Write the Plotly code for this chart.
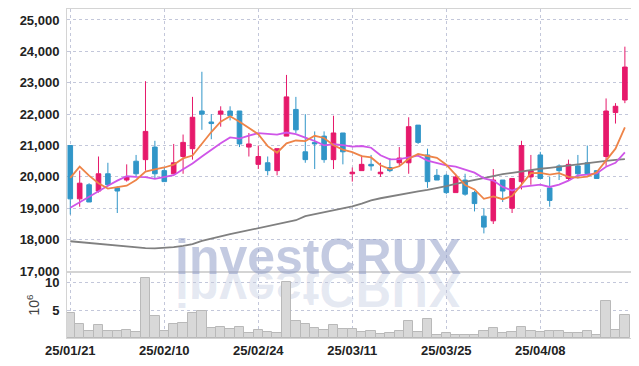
import base64
import plotly.graph_objects as go

# ---------------- data ----------------
dates = ["25/01/21", "25/01/22", "25/01/23", "25/01/24", "25/01/31",
         "25/02/03", "25/02/04", "25/02/05", "25/02/06", "25/02/07",
         "25/02/10", "25/02/11", "25/02/12", "25/02/13", "25/02/14",
         "25/02/17", "25/02/18", "25/02/19", "25/02/20", "25/02/21",
         "25/02/24", "25/02/25", "25/02/26", "25/02/27", "25/02/28",
         "25/03/04", "25/03/05", "25/03/06", "25/03/07", "25/03/10",
         "25/03/11", "25/03/12", "25/03/13", "25/03/14", "25/03/17",
         "25/03/18", "25/03/19", "25/03/20", "25/03/21", "25/03/24",
         "25/03/25", "25/03/26", "25/03/27", "25/03/28", "25/03/31",
         "25/04/01", "25/04/02", "25/04/03", "25/04/04", "25/04/07",
         "25/04/08", "25/04/09", "25/04/10", "25/04/11", "25/04/14",
         "25/04/15", "25/04/16", "25/04/17", "25/04/18", "25/04/21"]

open_ = [21000, 19300, 19750, 19550, 20100, 19650, 19900, 20500, 20550, 20950,
         20200, 20100, 20650, 20900, 22100, 21750, 22000, 22100, 22100, 20950,
         20400, 20450, 20200, 21300, 22150, 20800, 21100, 21300, 20550, 21400,
         20100, 20200, 20400, 20100, 20300, 20450, 20450, 21650, 20700, 20050,
         20050, 19500, 19900, 19500, 18750, 18600, 19900, 19000, 19850, 20000,
         20700, 19650, 20350, 19950, 20350, 20450, 20200, 20650, 22050, 22450]
high = [21000, 20200, 19800, 20650, 20450, 19700, 20400, 20700, 23050, 21150,
        20300, 21050, 21350, 22550, 23350, 22000, 22250, 22250, 22100, 21400,
        21000, 20650, 20900, 23250, 22550, 22000, 21450, 21450, 21950, 21400,
        20300, 20700, 20700, 20450, 20600, 20950, 21900, 21650, 20900, 20250,
        20100, 20100, 20100, 19550, 19000, 20250, 19900, 19950, 21150, 20700,
        20800, 20000, 20400, 20550, 20700, 21000, 20200, 22500, 22350, 24150]
low = [18800, 19050, 19200, 19500, 19700, 18850, 19850, 20000, 20200, 19950,
       19850, 20100, 20100, 20550, 21500, 21200, 21600, 21800, 20950, 20650,
       20250, 20050, 20050, 21300, 21400, 20450, 20250, 20450, 20250, 20400,
       19850, 20200, 20200, 20000, 20150, 20350, 20100, 21050, 19650, 19900,
       19450, 19500, 19400, 18900, 18200, 18500, 19200, 18850, 19600, 19750,
       19950, 19050, 19900, 19900, 19950, 20050, 19950, 20350, 21700, 22350]
close = [19300, 19800, 19200, 20100, 19750, 19550, 20000, 20100, 21450, 20100,
         19850, 20450, 21100, 21900, 22000, 21700, 22100, 21950, 21050, 21050,
         20650, 20200, 20900, 22550, 21500, 20550, 21050, 20550, 21400, 20800,
         20150, 20400, 20350, 20150, 20200, 20600, 21600, 21100, 19850, 19900,
         19500, 20000, 19450, 19150, 18400, 19900, 19550, 19950, 21000, 20200,
         19950, 19250, 20200, 20400, 20100, 20100, 19950, 22100, 22250, 23500]

ma5 = [19970, 20330, 20040, 19800, 19630, 19680, 19720, 19900, 20170, 20240,
       20300, 20390, 20590, 20680, 21060, 21430, 21760, 21930, 21760, 21570,
       21360, 20980, 20770, 21070, 21160, 21140, 21310, 21240, 21010, 20870,
       20790, 20660, 20620, 20370, 20250, 20340, 20580, 20730, 20670, 20610,
       20390, 20070, 19740, 19600, 19300, 19380, 19290, 19390, 19760, 20120,
       20130, 20070, 20120, 20000, 19980, 20010, 20150, 20530, 20900, 21580]
ma10 = [19020, 19200, 19370, 19550, 19720, 19880, 20020, 20000, 19990, 19935,
        19990, 20055, 20245, 20425, 20650, 20865, 21075, 21260, 21220, 21315,
        21395, 21370, 21350, 21415, 21365, 21250, 21145, 21005, 21040, 21015,
        20965, 20985, 20930, 20690, 20560, 20565, 20620, 20675, 20520, 20430,
        20365, 20325, 20235, 20135, 19955, 19885, 19680, 19565, 19680, 19710,
        19755, 19680, 19755, 19880, 20050, 20070, 20110, 20325, 20450, 20780]
ma_long = [17950, 17920, 17890, 17860, 17830, 17800, 17770, 17745, 17730, 17725,
           17735, 17760, 17800, 17860, 17960, 18040, 18120, 18180, 18240, 18300,
           18360, 18430, 18490, 18550, 18620, 18750, 18810, 18870, 18930, 18990,
           19060, 19150, 19250, 19320, 19380, 19440, 19490, 19540, 19590, 19640,
           19710, 19780, 19840, 19910, 19970, 20040, 20090, 20130, 20180, 20230,
           20260, 20290, 20330, 20370, 20400, 20440, 20480, 20510, 20540, 20565]

volume_m = [4.46, 2.5, 1.25, 2.3, 1.25, 1.25, 1.43, 1.07, 10.7, 3.93,
            1.25, 2.5, 2.74, 4.46, 4.88, 1.79, 1.96, 1.6, 1.96, 0.89,
            1.43, 1.07, 0.89, 10.0, 3.04, 2.5, 1.79, 1.43, 2.3, 1.6,
            1.6, 1.07, 1.25, 0.71, 0.89, 1.25, 3.04, 1.07, 3.39, 0.54,
            0.89, 0.54, 0.54, 0.54, 1.25, 1.79, 0.9, 1.07, 1.96, 1.25,
            1.07, 1.25, 1.25, 0.89, 0.89, 1.25, 0.54, 6.6, 1.43, 4.1]

tick_dates = ["25/01/21", "25/02/10", "25/02/24", "25/03/11", "25/03/25", "25/04/08"]
price_ticks = [17000, 18000, 19000, 20000, 21000, 22000, 23000, 24000, 25000]
volume_ticks = [5, 10]

# ---------------- style ----------------
RED = "#e6196b"
BLUE = "#3196c8"
ORANGE = "#ee8448"
PURPLE = "#cf55e8"
GRAY = "#808080"
GRID = "#c3c7da"
FRAME = "#d4d4d4"
TICKFONT = dict(family="Liberation Sans, Arial, sans-serif",
                size=13, color="#222222", weight="bold")

x = list(range(len(dates)))
tick_idx = [dates.index(d) for d in tick_dates]

fig = go.Figure()
fig.add_trace(go.Candlestick(
    x=x, open=open_, high=high, low=low, close=close,
    xaxis="x2", yaxis="y",
    increasing=dict(line=dict(color=RED, width=1), fillcolor=RED),
    decreasing=dict(line=dict(color=BLUE, width=1), fillcolor=BLUE),
    whiskerwidth=0, showlegend=False, hoverinfo="skip"))
fig.add_trace(go.Scatter(x=x, y=ma_long, mode="lines", xaxis="x2", yaxis="y",
                         line=dict(color=GRAY, width=1.8), showlegend=False, hoverinfo="skip"))
fig.add_trace(go.Scatter(x=x, y=ma10, mode="lines", xaxis="x2", yaxis="y",
                         line=dict(color=PURPLE, width=1.8), showlegend=False, hoverinfo="skip"))
fig.add_trace(go.Scatter(x=x, y=ma5, mode="lines", xaxis="x2", yaxis="y",
                         line=dict(color=ORANGE, width=1.8), showlegend=False, hoverinfo="skip"))
fig.add_trace(go.Bar(x=x, y=volume_m, xaxis="x", yaxis="y2",
                     marker=dict(color="#d8d8d8", line=dict(color="#b9b9b9", width=1)),
                     showlegend=False, hoverinfo="skip"))

# the page body adds an 8px offset, so the figure is sized/margined to compensate
OFF = 8
W, H = 639 - OFF, 366 - OFF
L, R, T, B = 67 - OFF, 8, 9 - OFF, 28
pw, ph = W - L - R, H - T - B
plot_bottom = H - B              # in figure pixels
split_px = 272 - OFF
vol_top = (plot_bottom - split_px) / ph

xr = [-0.35, 59.65]
common_x = dict(range=xr, showgrid=True, gridcolor=GRID, griddash="dot", gridwidth=1,
                tickvals=tick_idx, zeroline=False, showline=True, mirror=True,
                linecolor=FRAME, linewidth=1, automargin=False)

fig.update_layout(
    width=W, height=H,
    margin=dict(l=L, r=R, t=T, b=B, autoexpand=False),
    paper_bgcolor="white", plot_bgcolor="white",
    bargap=0.0,
    xaxis=dict(domain=[0, 1], anchor="y2", ticktext=tick_dates, tickfont=TICKFONT,
               ticks="", rangeslider=dict(visible=False), **common_x),
    xaxis2=dict(domain=[0, 1], anchor="y", matches="x", showticklabels=False,
                rangeslider=dict(visible=False), **common_x),
    yaxis=dict(domain=[vol_top, 1], anchor="x2", range=[16970, 25350],
               tickvals=price_ticks, tickformat=",d", tickfont=TICKFONT,
               ticks="", ticklabelstandoff=4,
               showgrid=True, gridcolor=GRID, griddash="dot", zeroline=False,
               showline=True, mirror=True, linecolor=FRAME, automargin=False),
    yaxis2=dict(domain=[0, vol_top], anchor="x", range=[0, 11.8],
                tickvals=volume_ticks, tickfont=TICKFONT,
                ticks="", ticklabelstandoff=4,
                showgrid=True, gridcolor=GRID, griddash="dot", zeroline=False,
                showline=True, mirror=True, linecolor=FRAME, automargin=False,
                title=dict(text="10<sup>6</sup>", standoff=2,
                           font=dict(family="Liberation Sans, Arial, sans-serif",
                                     size=14, color="#444444"))),
)

# watermark
wm_cx = 318 - OFF
wm_size = 50
fig.add_annotation(text="investCRUX", xref="paper", yref="paper",
                   x=(wm_cx - L) / pw, y=(plot_bottom - (287 - OFF)) / ph,
                   xanchor="center", yanchor="bottom", showarrow=False,
                   font=dict(family="Liberation Sans, Arial, sans-serif", size=wm_size,
                             color="rgba(135,150,195,0.5)", weight="bold"))

svg_w, svg_h = 400, 60
svg = (f'<svg xmlns="http://www.w3.org/2000/svg" width="{svg_w}" height="{svg_h}" '
       f'viewBox="0 0 {svg_w} {svg_h}"><g transform="scale(1,-1)">'
       f'<text x="{svg_w/2}" y="0" text-anchor="middle" '
       f'font-family="Liberation Sans, Arial, sans-serif" font-weight="bold" font-size="{wm_size}" '
       f'fill="rgb(140,155,200)" fill-opacity="0.22">investCRUX</text></g></svg>')
src = "data:image/svg+xml;base64," + base64.b64encode(svg.encode()).decode()
fig.add_layout_image(source=src, xref="paper", yref="paper",
                     x=(wm_cx - svg_w / 2 - L) / pw, y=(plot_bottom - split_px) / ph,
                     sizex=svg_w / pw, sizey=svg_h / ph, xanchor="left", yanchor="top",
                     sizing="stretch", layer="below")

fig.write_html("out.html")
